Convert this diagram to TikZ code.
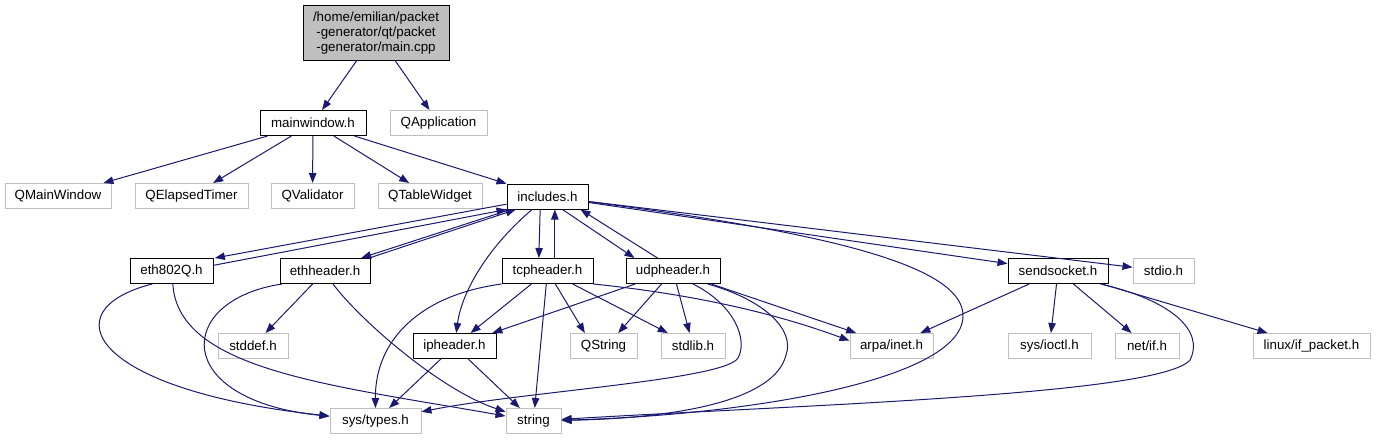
\documentclass[tikz,border=0pt]{standalone}
\usepackage{fontspec}
\setmainfont{Liberation Sans}
\usepackage{tikz}
\usetikzlibrary{arrows.meta}
\definecolor{edgeblue}{RGB}{25,25,112}
\definecolor{extgray}{RGB}{191,191,191}

\begin{document}
\begin{tikzpicture}[x=0.75pt,y=-0.75pt,>={Triangle[length=7.5pt,width=5.6pt]},
  file/.style={draw=black,fill=white,line width=0.75pt,inner sep=0pt,minimum height=18.75pt,font=\fontsize{10}{11.25}\selectfont},
  ext/.style={file,draw=extgray},
  dep/.style={->,edgeblue,line width=0.75pt}]
  \useasboundingbox (0,0) rectangle (1376,440);
  % files
  \node[file,fill=extgray,align=center,minimum width=109.5pt,minimum height=41.25pt] (main) at (376,33)
    {/home/emilian/packet\\-generator/qt/packet\\-generator/main.cpp};
  \node[file,minimum width=79.5pt] (mainwindow) at (313,123) {mainwindow.h};
  \node[ext,minimum width=72.75pt] (qapp) at (438.5,123) {QApplication};
  \node[ext,minimum width=79.5pt] (qmainwindow) at (58,196) {QMainWindow};
  \node[ext,minimum width=84.75pt] (qelapsed) at (191.5,196) {QElapsedTimer};
  \node[ext,minimum width=62.25pt] (qvalidator) at (312.5,196) {QValidator};
  \node[ext,minimum width=78pt] (qtable) at (430,196) {QTableWidget};
  \node[file,minimum width=60.75pt] (includes) at (547.5,196.5) {includes.h};
  \node[file,minimum width=62.25pt] (eth802q) at (171.5,271) {eth802Q.h};
  \node[file,minimum width=67.5pt] (ethheader) at (325,271) {ethheader.h};
  \node[file,minimum width=68.25pt] (tcpheader) at (547.5,271) {tcpheader.h};
  \node[file,minimum width=70.5pt] (udpheader) at (673,271) {udpheader.h};
  \node[file,minimum width=75pt] (sendsocket) at (1058,271) {sendsocket.h};
  \node[ext,minimum width=45.75pt] (stdio) at (1163.5,271) {stdio.h};
  \node[ext,minimum width=52.5pt] (stddef) at (253,346) {stddef.h};
  \node[file,minimum width=62.25pt] (ipheader) at (454.5,346) {ipheader.h};
  \node[ext,minimum width=50.25pt] (qstring) at (603.5,346) {QString};
  \node[ext,minimum width=48pt] (stdlib) at (693,346) {stdlib.h};
  \node[ext,minimum width=62.25pt] (arpainet) at (891.5,346) {arpa/inet.h};
  \node[ext,minimum width=62.25pt] (sysioctl) at (1049.5,346) {sys/ioctl.h};
  \node[ext,minimum width=48pt] (netif) at (1147,346) {net/if.h};
  \node[ext,minimum width=87.75pt] (ifpacket) at (1311.5,346) {linux/if\_packet.h};
  \node[ext,minimum width=68.25pt] (systypes) at (375.5,421) {sys/types.h};
  \node[ext,minimum width=41.25pt] (string) at (533.5,421) {string};
  % include edges
  \draw[dep] (main) -- (mainwindow);
  \draw[dep] (main) -- (qapp);
  \foreach \n in {qmainwindow,qelapsed,qvalidator,qtable,includes}
    \draw[dep] (mainwindow) -- (\n);
  \draw[dep] ([yshift=4pt]includes.south west) -- ([xshift=1pt]eth802q.north east);
  \draw[dep] ([yshift=-5.5pt]eth802q.north east) -- (includes.south west);
  \draw[dep] ([xshift=3pt]includes.south west) -- ([xshift=-7pt]ethheader.north east);
  \draw[dep] ([xshift=-1pt]ethheader.north east) -- ([xshift=7pt]includes.south west);
  \draw[dep] ([xshift=-5.5pt]includes.south) -- ([xshift=-6.5pt]tcpheader.north);
  \draw[dep] ([xshift=5.5pt]tcpheader.north) -- ([xshift=5.5pt]includes.south);
  \draw[dep] ([xshift=-19.5pt]includes.south east) -- ([xshift=6.75pt]udpheader.north west);
  \draw[dep] ([xshift=24pt]udpheader.north west) -- ([xshift=-6pt]includes.south east);
  \draw[dep] (includes) .. controls (490,245) and (462,290) .. (ipheader);
  \draw[dep] (includes) -- (sendsocket);
  \draw[dep] (includes) -- (stdio);
  \draw[dep] (includes) .. controls (850,235) and (965,270) .. (963,317)
    .. controls (960,380) and (750,415) .. (string);
  \draw[dep] ([xshift=-14.5pt]eth802q.south) .. controls (50,310) and (90,390) .. (systypes);
  \draw[dep] ([xshift=1pt]eth802q.south) .. controls (178,370) and (330,385) .. (string);
  \draw[dep] (ethheader) -- (stddef);
  \draw[dep] ([xshift=-32.25pt]ethheader.south) .. controls (175,300) and (170,400) .. (systypes);
  \draw[dep] ([xshift=6pt]ethheader.south) .. controls (360,320) and (440,390) .. (string);
  \draw[dep] (tcpheader.south west) .. controls (420,295) and (375,340) .. (systypes);
  \draw[dep] (tcpheader) -- (ipheader);
  \draw[dep] (tcpheader) -- (string);
  \draw[dep] (tcpheader) -- ([xshift=-14pt]qstring.north);
  \draw[dep] (tcpheader) -- (stdlib);
  \draw[dep] (tcpheader.south east) .. controls (700,295) and (780,315) .. ([yshift=4pt]arpainet.west);
  \draw[dep] (udpheader) -- (ipheader);
  \draw[dep] (udpheader) -- ([xshift=11pt]qstring.north);
  \draw[dep] (udpheader) -- (stdlib);
  \draw[dep] (udpheader) -- ([xshift=5pt]arpainet.north west);
  \draw[dep] ([xshift=15pt]udpheader.south) .. controls (735,305) and (748,340) .. (738,358)
    .. controls (725,380) and (520,392) .. (systypes);
  \draw[dep] ([xshift=26pt]udpheader.south) .. controls (765,300) and (795,330) .. (786,355)
    .. controls (775,400) and (680,418) .. (string);
  \draw[dep] (ipheader) -- (systypes);
  \draw[dep] (ipheader) -- (string);
  \foreach \n in {arpainet,sysioctl,netif,ifpacket}
    \draw[dep] (sendsocket) -- (\n);
  \draw[dep] ([xshift=-6pt]sendsocket.south east) .. controls (1170,300) and (1205,330) .. (1190,360)
    .. controls (1160,395) and (800,405) .. (string);
\end{tikzpicture}
\end{document}
